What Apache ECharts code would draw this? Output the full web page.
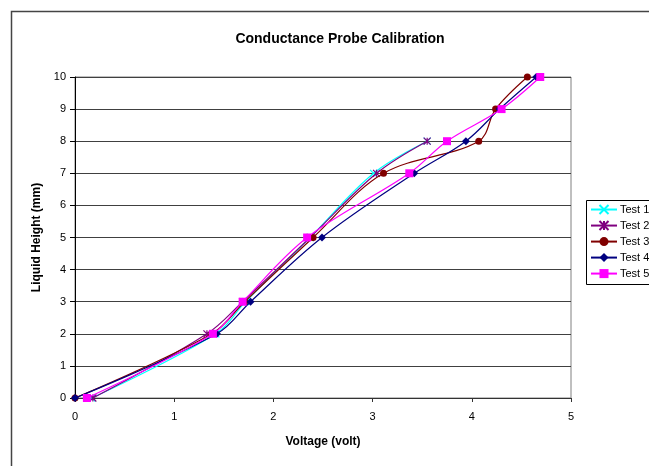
<!DOCTYPE html>
<html>
<head>
<meta charset="utf-8">
<script src="https://cdn.jsdelivr.net/npm/echarts@6/dist/echarts.min.js"></script>
<style>
html,body{margin:0;padding:0;background:#fff;}
#c{width:649px;height:466px;}
</style>
</head>
<body>
<div id="c"></div>
<script>
var seriesNames = ['Test 1', 'Test 2', 'Test 3', 'Test 4', 'Test 5'];
var heightsShort = [0, 2, 3, 5, 7, 8];
var heightsLong = [0, 2, 3, 5, 7, 8, 9, 10];
var test1Volt = [0.17, 1.42, 1.72, 2.37, 3.01, 3.55];
var test2Volt = [0.18, 1.33, 1.69, 2.37, 3.04, 3.55];
var test3Volt = [0.00, 1.38, 1.71, 2.40, 3.11, 4.07, 4.24, 4.56];
var test4Volt = [0.00, 1.43, 1.77, 2.49, 3.42, 3.94, 4.28, 4.65];
var test5Volt = [0.12, 1.39, 1.69, 2.34, 3.37, 3.75, 4.30, 4.69];
var xTicks = [0, 1, 2, 3, 4, 5];
var yTicks = [0, 1, 2, 3, 4, 5, 6, 7, 8, 9, 10];

function pairs(xs, ys) { return xs.map(function (x, i) { return [x, ys[i]]; }); }

var FONT = '"Liberation Sans", Arial, sans-serif';
var styles = [
  { color: '#00FFFF', symbol: 'path://M0,0L10,10M10,0L0,10', size: 7, stroke: true },
  { color: '#800080', symbol: 'path://M0,0L10,10M10,0L0,10M5,0L5,10', size: 7, stroke: true },
  { color: '#800000', symbol: 'circle', size: 7 },
  { color: '#000080', symbol: 'diamond', size: 8 },
  { color: '#FF00FF', symbol: 'rect', size: 8 }
];
var dataSets = [
  pairs(test1Volt, heightsShort),
  pairs(test2Volt, heightsShort),
  pairs(test3Volt, heightsLong),
  pairs(test4Volt, heightsLong),
  pairs(test5Volt, heightsLong)
];

var series = seriesNames.map(function (n, i) {
  var s = styles[i];
  return {
    name: n,
    type: 'line',
    data: dataSets[i],
    smooth: 0.35,
    symbol: s.symbol,
    symbolSize: s.size,
    lineStyle: { color: s.color, width: 1.2 },
    itemStyle: s.stroke ? { color: s.color, borderColor: s.color, borderWidth: 1.2 } : { color: s.color, borderWidth: 0 },
    z: 2 + i
  };
});

var chart = echarts.init(document.getElementById('c'), null, { renderer: 'canvas' });
chart.setOption({
  animation: false,
  backgroundColor: '#fff',
  title: {
    text: 'Conductance Probe Calibration',
    left: 335, top: 27, textAlign: 'center',
    textStyle: { fontFamily: FONT, fontSize: 14, fontWeight: 'bold', color: '#000' }
  },
  graphic: [{
    type: 'rect', left: 9, top: 9, shape: { x: 0, y: 0, width: 700, height: 520 },
    style: { fill: 'none', stroke: '#444', lineWidth: 1.5 }, silent: true
  }, {
    type: 'rect', left: 586, top: 200, shape: { x: 0, y: 0, width: 100, height: 84 },
    style: { fill: '#fff', stroke: '#000', lineWidth: 1 }, silent: true, z: 0
  }],
  legend: {
    orient: 'vertical', left: 590, top: 204,
    padding: 0, itemGap: 5,
    itemWidth: 26, itemHeight: 11.3,
    textStyle: { fontFamily: FONT, fontSize: 11, color: '#000', padding: [0, 0, 0, -2], overflow: 'none' },
    data: seriesNames,
    z: 10
  },
  grid: { left: 75, top: 77, right: 78, bottom: 68, show: true, borderColor: '#808080', borderWidth: 1, backgroundColor: 'transparent' },
  xAxis: {
    type: 'value', min: xTicks[0], max: xTicks[xTicks.length - 1], interval: 1,
    name: 'Voltage (volt)', nameLocation: 'middle', nameGap: 38,
    nameTextStyle: { fontFamily: FONT, fontSize: 12, fontWeight: 'bold', color: '#000' },
    axisLine: { show: true, lineStyle: { color: '#333', width: 1 } },
    axisTick: { show: true, inside: false, length: 4, lineStyle: { color: '#333' } },
    axisLabel: { fontFamily: FONT, fontSize: 11, color: '#000', margin: 13 },
    splitLine: { show: false }
  },
  yAxis: {
    type: 'value', min: yTicks[0], max: yTicks[yTicks.length - 1], interval: 1,
    name: 'Liquid Height (mm)', nameLocation: 'middle', nameGap: 32, nameRotate: 90,
    nameTextStyle: { fontFamily: FONT, fontSize: 12, fontWeight: 'bold', color: '#000' },
    axisLine: { show: true, lineStyle: { color: '#000', width: 1 } },
    axisTick: { show: true, inside: false, length: 5, lineStyle: { color: '#000' } },
    axisLabel: { fontFamily: FONT, fontSize: 11, color: '#000', margin: 9 },
    splitLine: { show: true, lineStyle: { color: '#404040', width: 1 } }
  },
  series: series
});
</script>
</body>
</html>
